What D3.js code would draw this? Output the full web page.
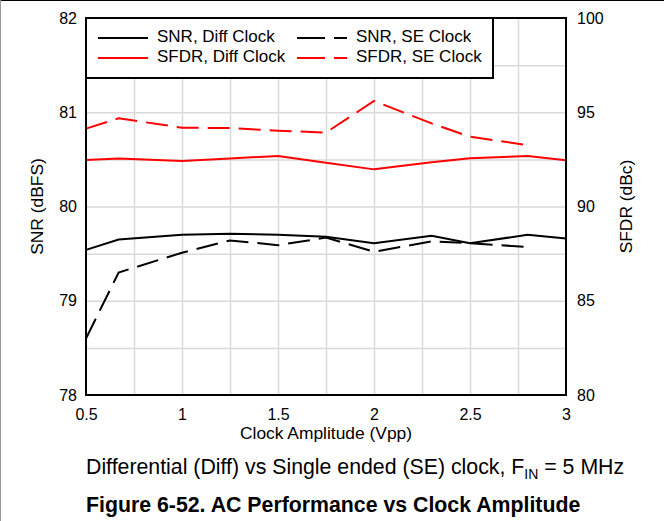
<!DOCTYPE html>
<html>
<head>
<meta charset="utf-8">
<script src="https://cdn.jsdelivr.net/npm/d3@7"></script>
<style>
  body { margin: 0; background: #fff; }
  svg { font-family: "Liberation Sans", Arial, sans-serif; }
</style>
</head>
<body>
<div id="chart-area"></div>
<script>
// Data
var clockAmp = [0.5, 0.67, 1.0, 1.25, 1.5, 1.75, 2.0, 2.3, 2.5, 2.8, 3.0];
var snrDiff  = [79.54, 79.65, 79.70, 79.71, 79.70, 79.68, 79.61, 79.69, 79.61, 79.70, 79.66];
var snrSE    = [78.60, 79.30, 79.51, 79.64, 79.59, 79.67, 79.52, 79.63, 79.61, 79.57, null];
var sfdrDiff = [92.47, 92.54, 92.41, 92.55, 92.68, 92.32, 91.97, 92.35, 92.56, 92.68, 92.45];
var sfdrSE   = [94.13, 94.68, 94.18, 94.16, 94.02, 93.92, 95.60, 94.41, 93.70, 93.26, null];

var xTicks = [0.5, 1, 1.5, 2, 2.5, 3];
var snrTicks = [78, 79, 80, 81, 82];
var sfdrTicks = [80, 85, 90, 95, 100];

var legendNames = ["SNR, Diff Clock", "SNR, SE Clock", "SFDR, Diff Clock", "SFDR, SE Clock"];

// Layout
var W = 664, H = 521;
var margin = { top: 18, left: 86 };
var width = 480, height = 377;

var svg = d3.select("#chart-area")
    .append("svg")
    .attr("width", W)
    .attr("height", H);

// thin frame of the original screenshot
svg.append("line").attr("x1", 0).attr("x2", W).attr("y1", 0.5).attr("y2", 0.5)
    .attr("stroke", "#000").attr("stroke-width", 1);
svg.append("line").attr("x1", 0.5).attr("x2", 0.5).attr("y1", 0).attr("y2", H)
    .attr("stroke", "#999").attr("stroke-width", 1);

var g = svg.append("g")
    .attr("transform", "translate(" + margin.left + "," + margin.top + ")");

// SCALES
var x = d3.scaleLinear().domain([0.5, 3]).range([0, width]);
var ySnr = d3.scaleLinear().domain([78, 82]).range([height, 0]);
var ySfdr = d3.scaleLinear().domain([80, 100]).range([height, 0]);

// Grid
g.append("g")
    .attr("class", "grid x")
    .attr("transform", "translate(0," + height + ")")
    .call(d3.axisBottom(x).tickValues(d3.range(0.75, 3, 0.25)).tickSize(-height).tickFormat(""))
    .call((s) => s.select(".domain").remove());
g.append("g")
    .attr("class", "grid y")
    .call(d3.axisLeft(ySnr).tickValues(d3.range(78.5, 82, 0.5)).tickSize(-width).tickFormat(""))
    .call((s) => s.select(".domain").remove());
g.selectAll(".grid line").attr("stroke", "#d9d9d9").attr("stroke-width", 1.5);

// Axes (labels only, frame drawn separately)
var bottomAxis = g.append("g")
    .attr("transform", "translate(0," + height + ")")
    .call(d3.axisBottom(x).tickValues(xTicks).tickSize(0).tickPadding(14).tickFormat(d3.format("")));
var leftAxis = g.append("g")
    .call(d3.axisLeft(ySnr).tickValues(snrTicks).tickSize(0).tickPadding(9).tickFormat(d3.format("d")));
var rightAxis = g.append("g")
    .attr("transform", "translate(" + width + ",0)")
    .call(d3.axisRight(ySfdr).tickValues(sfdrTicks).tickSize(0).tickPadding(11).tickFormat(d3.format("d")));

[bottomAxis, leftAxis, rightAxis].forEach((a) => {
    a.select(".domain").remove();
    a.selectAll("text")
        .attr("font-size", "16px")
        .attr("font-family", "Liberation Sans, Arial, sans-serif")
        .attr("fill", "#000");
});

// Axis titles
g.append("text")
    .attr("x", width / 2)
    .attr("y", height + 44)
    .attr("text-anchor", "middle")
    .attr("font-size", "17.4px")
    .text("Clock Amplitude (Vpp)");

g.append("text")
    .attr("transform", "rotate(-90)")
    .attr("x", -height / 2)
    .attr("y", -43)
    .attr("text-anchor", "middle")
    .attr("font-size", "17.4px")
    .text("SNR (dBFS)");

g.append("text")
    .attr("transform", "rotate(-90)")
    .attr("x", -height / 2)
    .attr("y", width + 66)
    .attr("text-anchor", "middle")
    .attr("font-size", "17.4px")
    .text("SFDR (dBc)");

// Lines
var series = [
    { vals: snrDiff, y: ySnr, color: "#000", dash: null },
    { vals: snrSE, y: ySnr, color: "#000", dash: "22,9" },
    { vals: sfdrDiff, y: ySfdr, color: "#ff0000", dash: null },
    { vals: sfdrSE, y: ySfdr, color: "#ff0000", dash: "22,9" }
];

series.forEach((s) => {
    var pts = clockAmp.map((c, i) => ({ c: c, v: s.vals[i] }));
    var line = d3.line()
        .defined((d) => d.v != null)
        .x((d) => x(d.c))
        .y((d) => s.y(d.v));
    g.append("path")
        .datum(pts)
        .attr("d", line)
        .attr("fill", "none")
        .attr("stroke", s.color)
        .attr("stroke-width", 2)
        .attr("stroke-dasharray", s.dash);
});

// Legend
var legend = g.append("g").attr("class", "legend");
legend.append("rect")
    .attr("x", 0).attr("y", 0)
    .attr("width", 407).attr("height", 60)
    .attr("fill", "#fff")
    .attr("stroke", "#000")
    .attr("stroke-width", 2);

var legendPos = [
    { lx: 12, ty: 20 }, { lx: 211, ty: 20 },
    { lx: 12, ty: 40 }, { lx: 211, ty: 40 }
];
legendNames.forEach((name, i) => {
    var p = legendPos[i];
    legend.append("line")
        .attr("x1", p.lx).attr("x2", p.lx + 50)
        .attr("y1", p.ty).attr("y2", p.ty)
        .attr("stroke", series[i].color)
        .attr("stroke-width", 2)
        .attr("stroke-dasharray", series[i].dash ? "28,9" : null);
    legend.append("text")
        .attr("x", p.lx + 59)
        .attr("y", p.ty + 4)
        .attr("font-size", "17px")
        .text(name);
});

// Plot frame
g.append("rect")
    .attr("width", width).attr("height", height)
    .attr("fill", "none")
    .attr("stroke", "#000")
    .attr("stroke-width", 2);

// Caption and figure title
var cap = svg.append("text")
    .attr("x", 86)
    .attr("y", 474)
    .attr("font-size", "21.3px");
cap.append("tspan").text("Differential (Diff) vs Single ended (SE) clock, F");
cap.append("tspan").attr("font-size", "14px").attr("dy", 5).text("IN");
cap.append("tspan").attr("dy", -5).text(" = 5 MHz");

svg.append("text")
    .attr("x", 86)
    .attr("y", 512)
    .attr("font-size", "21.3px")
    .attr("font-weight", "bold")
    .text("Figure 6-52. AC Performance vs Clock Amplitude");
</script>
</body>
</html>
